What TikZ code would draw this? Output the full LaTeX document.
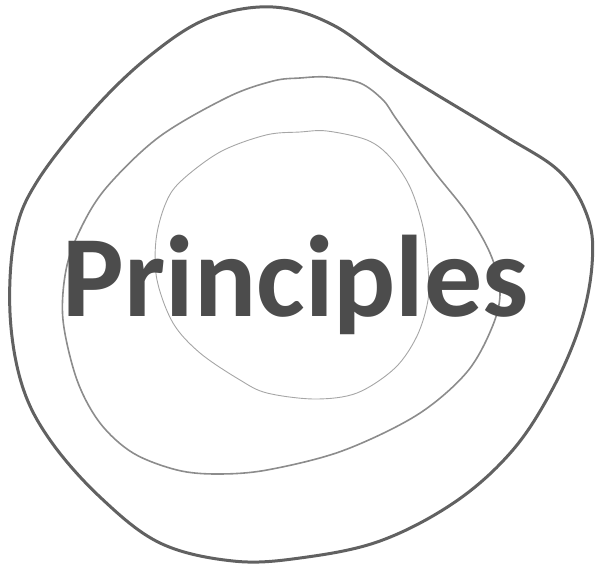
\documentclass[tikz,border=0pt]{standalone}
\usepackage{fontspec}
\setmainfont{Carlito}
\begin{document}
\begin{tikzpicture}[x=1pt,y=-1pt,
  blob/.style={line join=round},
  outerblob/.style={blob,draw=black!62,line width=3pt},
  midblob/.style={blob,draw=black!45,line width=1.6pt},
  innerblob/.style={blob,draw=black!35,line width=0.9pt},
  title/.style={font=\bfseries\fontsize{116}{120}\selectfont,text=black!70,inner sep=0pt,anchor=base}]
\useasboundingbox (0,0) rectangle (595,566);
\draw[outerblob] plot[smooth cycle,tension=0.6] coordinates {
 (273,7) (333,25) (400,72) (500,133) (560,172) (588,218) (592,265)
 (580,325) (552,390) (512,451) (455,502) (380,541) (300,558) (233,561)
 (160,543) (100,497) (50,440) (22,385) (10,313) (15,235) (38,180)
 (95,108) (152,54) (209,18)};
\draw[midblob] plot[smooth cycle,tension=0.55] coordinates {
 (300,78) (327,77) (360,83) (383,100) (397,120) (433,170) (467,213)
 (490,253) (500,290) (493,325) (467,372) (417,415) (342,451)
 (267,470) (217,474) (177,470) (133,453) (100,423) (77,380) (63,320)
 (66,270) (80,230) (106,188) (159,137) (228,97) (273,81)};
\draw[innerblob] plot[smooth cycle,tension=0.55] coordinates {
 (300,132) (327,131) (367,140) (390,157) (410,187) (423,227) (428,267)
 (428,300) (417,336) (395,368) (357,393) (315,399) (267,393) (240,380)
 (200,353) (173,323) (157,280) (156,240) (165,205) (180,182) (220,152)
 (266,135)};
\node[title] (t) at (296,316) {Principles};
\end{tikzpicture}
\end{document}
